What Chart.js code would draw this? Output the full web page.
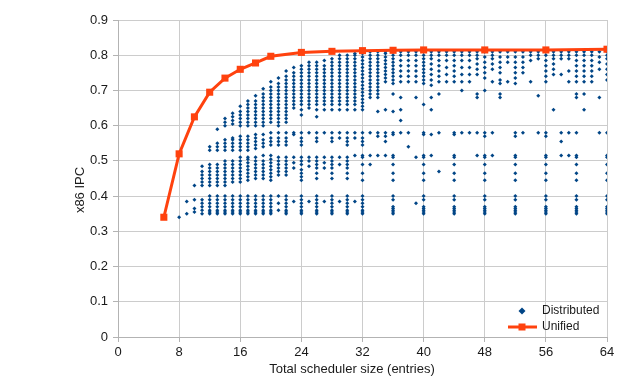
<!DOCTYPE html>
<html>
<head>
<meta charset="utf-8">
<script src="https://cdn.jsdelivr.net/npm/chart.js@4.4.1/dist/chart.umd.min.js"></script>
<style>
  html, body { margin: 0; padding: 0; background: #fff; }
  #wrap { width: 640px; height: 383px; position: relative; }
</style>
</head>
<body>
<div id="wrap"><canvas id="chartCanvas"></canvas></div>
<script>
// Unified scheduler: one point per size
const unifiedSize = [6, 8, 10, 12, 14, 16, 18, 20, 24, 28, 32, 36, 40, 48, 56, 64];
const unifiedIPC = [0.34, 0.52, 0.625, 0.695, 0.735, 0.76, 0.778, 0.797, 0.808, 0.811, 0.813, 0.814, 0.815, 0.815, 0.815, 0.817];

// Distributed configurations: all IPC values seen at each total size
const distSize = [8, 9, 10, 11, 12, 13, 14, 15, 16, 17, 18, 19, 20, 21, 22, 23, 24, 25, 26, 27, 28, 29, 30, 31, 32,
  33, 34, 35, 36, 37, 38, 39, 40, 41, 42, 43, 44, 45, 46, 47, 48, 49, 50, 51, 52, 53, 54, 55, 56, 57, 58, 59, 60, 61, 62, 63, 64];
const distIPC = [
  [0.34],
  [0.35, 0.385],
  [0.355, 0.365, 0.39, 0.43],
  [0.35, 0.36, 0.37, 0.38, 0.39, 0.43, 0.44, 0.45, 0.46, 0.47, 0.485],
  [0.35, 0.355, 0.36, 0.37, 0.38, 0.39, 0.40, 0.43, 0.44, 0.45, 0.46, 0.47, 0.48, 0.49, 0.53, 0.54],
  [0.35, 0.355, 0.36, 0.37, 0.38, 0.39, 0.40, 0.43, 0.44, 0.45, 0.46, 0.47, 0.48, 0.49, 0.53, 0.54, 0.55, 0.59],
  [0.35, 0.355, 0.36, 0.37, 0.38, 0.39, 0.40, 0.43, 0.44, 0.45, 0.46, 0.47, 0.48, 0.49, 0.50, 0.53, 0.54, 0.55, 0.56, 0.60, 0.61, 0.62],
  [0.35, 0.355, 0.36, 0.37, 0.38, 0.39, 0.40, 0.44, 0.45, 0.46, 0.47, 0.48, 0.49, 0.50, 0.53, 0.54, 0.55, 0.56, 0.565, 0.605, 0.615, 0.625, 0.635],
  [0.35, 0.355, 0.36, 0.37, 0.38, 0.39, 0.40, 0.44, 0.45, 0.46, 0.47, 0.48, 0.49, 0.50, 0.51, 0.53, 0.54, 0.55, 0.56, 0.57, 0.60, 0.61, 0.62, 0.63, 0.64, 0.655],
  [0.35, 0.355, 0.36, 0.37, 0.38, 0.39, 0.40, 0.445, 0.455, 0.465, 0.475, 0.485, 0.495, 0.505, 0.51, 0.53, 0.54, 0.55, 0.56, 0.57, 0.60, 0.61, 0.62, 0.63, 0.64, 0.65, 0.66, 0.67],
  [0.35, 0.355, 0.36, 0.37, 0.38, 0.39, 0.40, 0.45, 0.46, 0.47, 0.48, 0.49, 0.50, 0.51, 0.535, 0.545, 0.555, 0.565, 0.575, 0.60, 0.61, 0.62, 0.63, 0.64, 0.65, 0.66, 0.67, 0.685],
  [0.35, 0.355, 0.36, 0.37, 0.38, 0.39, 0.40, 0.45, 0.46, 0.47, 0.48, 0.49, 0.50, 0.515, 0.54, 0.55, 0.56, 0.575, 0.60, 0.61, 0.62, 0.63, 0.64, 0.65, 0.66, 0.67, 0.68, 0.69, 0.705],
  [0.35, 0.355, 0.36, 0.37, 0.38, 0.39, 0.40, 0.445, 0.455, 0.465, 0.475, 0.485, 0.495, 0.505, 0.515, 0.545, 0.555, 0.565, 0.58, 0.61, 0.62, 0.63, 0.64, 0.65, 0.66, 0.67, 0.68, 0.69, 0.70, 0.71, 0.725],
  [0.36, 0.38, 0.40, 0.46, 0.47, 0.48, 0.49, 0.50, 0.51, 0.545, 0.555, 0.565, 0.58, 0.60, 0.61, 0.62, 0.63, 0.64, 0.65, 0.66, 0.67, 0.68, 0.69, 0.70, 0.71, 0.72, 0.735],
  [0.35, 0.355, 0.36, 0.37, 0.38, 0.39, 0.40, 0.46, 0.47, 0.48, 0.49, 0.50, 0.51, 0.545, 0.555, 0.565, 0.58, 0.61, 0.62, 0.63, 0.64, 0.65, 0.66, 0.67, 0.68, 0.69, 0.70, 0.71, 0.72, 0.73, 0.74, 0.755],
  [0.385, 0.48, 0.495, 0.51, 0.575, 0.58, 0.65, 0.66, 0.67, 0.68, 0.69, 0.70, 0.71, 0.72, 0.73, 0.74, 0.75, 0.765],
  [0.35, 0.355, 0.36, 0.37, 0.38, 0.39, 0.40, 0.445, 0.455, 0.465, 0.475, 0.49, 0.50, 0.51, 0.545, 0.555, 0.565, 0.58, 0.63, 0.645, 0.66, 0.67, 0.68, 0.69, 0.70, 0.71, 0.72, 0.73, 0.74, 0.75, 0.76, 0.77],
  [0.385, 0.485, 0.50, 0.51, 0.58, 0.65, 0.66, 0.67, 0.68, 0.69, 0.70, 0.71, 0.72, 0.73, 0.74, 0.75, 0.76, 0.77, 0.78],
  [0.35, 0.355, 0.36, 0.37, 0.38, 0.39, 0.40, 0.45, 0.465, 0.48, 0.49, 0.50, 0.51, 0.555, 0.565, 0.58, 0.625, 0.645, 0.66, 0.67, 0.68, 0.69, 0.70, 0.71, 0.72, 0.73, 0.74, 0.75, 0.76, 0.77, 0.78],
  [0.385, 0.48, 0.495, 0.51, 0.58, 0.645, 0.66, 0.67, 0.68, 0.69, 0.70, 0.71, 0.72, 0.73, 0.74, 0.75, 0.76, 0.77, 0.785],
  [0.35, 0.355, 0.36, 0.37, 0.38, 0.39, 0.40, 0.45, 0.465, 0.48, 0.49, 0.50, 0.51, 0.555, 0.565, 0.58, 0.645, 0.66, 0.67, 0.68, 0.69, 0.70, 0.71, 0.72, 0.73, 0.74, 0.75, 0.76, 0.77, 0.78, 0.79],
  [0.385, 0.49, 0.51, 0.565, 0.58, 0.645, 0.66, 0.67, 0.68, 0.69, 0.70, 0.71, 0.72, 0.73, 0.74, 0.75, 0.76, 0.77, 0.78, 0.79, 0.80],
  [0.35, 0.355, 0.36, 0.37, 0.38, 0.39, 0.40, 0.45, 0.465, 0.48, 0.49, 0.50, 0.51, 0.545, 0.555, 0.565, 0.58, 0.645, 0.66, 0.67, 0.68, 0.69, 0.70, 0.71, 0.72, 0.73, 0.74, 0.75, 0.76, 0.77, 0.78, 0.79, 0.80],
  [0.385, 0.515, 0.565, 0.58, 0.645, 0.66, 0.67, 0.68, 0.69, 0.70, 0.71, 0.72, 0.73, 0.74, 0.75, 0.76, 0.77, 0.78, 0.79, 0.80, 0.805],
  [0.35, 0.355, 0.36, 0.37, 0.38, 0.39, 0.40, 0.445, 0.465, 0.49, 0.51, 0.515, 0.545, 0.555, 0.565, 0.58, 0.645, 0.655, 0.665, 0.675, 0.685, 0.695, 0.705, 0.715, 0.725, 0.735, 0.745, 0.755, 0.765, 0.775, 0.785, 0.795, 0.805, 0.81],
  [0.49, 0.515, 0.58, 0.68, 0.69, 0.70, 0.71, 0.72, 0.73, 0.74, 0.75, 0.76, 0.77, 0.78, 0.79, 0.80, 0.81],
  [0.515, 0.57, 0.58, 0.64, 0.68, 0.69, 0.70, 0.71, 0.72, 0.73, 0.74, 0.75, 0.76, 0.77, 0.78, 0.79, 0.80, 0.81],
  [0.515, 0.555, 0.57, 0.58, 0.645, 0.725, 0.735, 0.745, 0.755, 0.765, 0.775, 0.785, 0.795, 0.805, 0.81],
  [0.35, 0.355, 0.36, 0.365, 0.37, 0.39, 0.40, 0.445, 0.465, 0.49, 0.51, 0.515, 0.575, 0.58, 0.64, 0.69, 0.72, 0.73, 0.74, 0.75, 0.76, 0.77, 0.78, 0.79, 0.80, 0.81],
  [0.58, 0.615, 0.645, 0.68, 0.725, 0.74, 0.755, 0.77, 0.785, 0.80, 0.81],
  [0.54, 0.58, 0.725, 0.74, 0.755, 0.77, 0.785, 0.80, 0.81],
  [0.38, 0.51, 0.68, 0.725, 0.74, 0.755, 0.77, 0.785, 0.80, 0.81],
  [0.35, 0.355, 0.36, 0.365, 0.37, 0.39, 0.40, 0.445, 0.465, 0.49, 0.51, 0.515, 0.575, 0.58, 0.66, 0.72, 0.73, 0.74, 0.75, 0.76, 0.77, 0.78, 0.79, 0.80, 0.81],
  [0.515, 0.575, 0.645, 0.68, 0.715, 0.73, 0.745, 0.76, 0.775, 0.79, 0.80, 0.81],
  [0.47, 0.58, 0.69, 0.725, 0.74, 0.755, 0.77, 0.785, 0.80, 0.81],
  [0.725, 0.745, 0.765, 0.785, 0.80, 0.81],
  [0.35, 0.355, 0.36, 0.365, 0.37, 0.39, 0.40, 0.445, 0.465, 0.49, 0.51, 0.515, 0.575, 0.58, 0.725, 0.74, 0.755, 0.77, 0.785, 0.80, 0.81],
  [0.58, 0.70, 0.725, 0.745, 0.765, 0.785, 0.80, 0.81],
  [0.58, 0.725, 0.745, 0.765, 0.785, 0.80, 0.81],
  [0.515, 0.58, 0.68, 0.69, 0.745, 0.76, 0.775, 0.79, 0.80, 0.81],
  [0.35, 0.355, 0.36, 0.365, 0.37, 0.39, 0.40, 0.445, 0.465, 0.49, 0.51, 0.515, 0.57, 0.58, 0.70, 0.735, 0.75, 0.765, 0.78, 0.795, 0.81],
  [0.515, 0.58, 0.725, 0.76, 0.775, 0.79, 0.80, 0.81],
  [0.68, 0.69, 0.72, 0.73, 0.75, 0.765, 0.78, 0.795, 0.81],
  [0.725, 0.78, 0.795, 0.81],
  [0.35, 0.355, 0.36, 0.365, 0.37, 0.39, 0.40, 0.445, 0.465, 0.49, 0.51, 0.515, 0.57, 0.58, 0.72, 0.735, 0.75, 0.765, 0.78, 0.795, 0.81],
  [0.58, 0.75, 0.765, 0.78, 0.795, 0.81],
  [0.725, 0.785, 0.80, 0.81],
  [0.58, 0.685, 0.79, 0.80, 0.81],
  [0.35, 0.355, 0.36, 0.365, 0.37, 0.39, 0.40, 0.445, 0.465, 0.49, 0.51, 0.515, 0.57, 0.58, 0.725, 0.74, 0.755, 0.77, 0.785, 0.80, 0.81],
  [0.645, 0.745, 0.76, 0.775, 0.79, 0.80, 0.81],
  [0.515, 0.555, 0.58, 0.745, 0.79, 0.80, 0.81],
  [0.515, 0.58, 0.725, 0.755, 0.79, 0.80, 0.81],
  [0.35, 0.355, 0.36, 0.365, 0.37, 0.39, 0.40, 0.445, 0.465, 0.49, 0.51, 0.515, 0.58, 0.68, 0.69, 0.725, 0.74, 0.755, 0.77, 0.785, 0.80, 0.81],
  [0.645, 0.69, 0.725, 0.74, 0.755, 0.77, 0.785, 0.80, 0.81],
  [0.725, 0.74, 0.755, 0.77, 0.785, 0.80, 0.81],
  [0.58, 0.68, 0.76, 0.78, 0.795, 0.81],
  [0.35, 0.355, 0.36, 0.365, 0.37, 0.39, 0.40, 0.445, 0.465, 0.49, 0.51, 0.515, 0.58, 0.73, 0.745, 0.76, 0.775, 0.79, 0.80, 0.81],
];

const yTickLabels = ["0", "0.1", "0.2", "0.3", "0.4", "0.5", "0.6", "0.7", "0.8", "0.9"];
const xTitle = "Total scheduler size (entries)";
const yTitle = "x86 IPC";
const seriesNames = ["Distributed", "Unified"];

const BLUE = "#004586";
const ORANGE = "#ff420e";
const FONT = "'Liberation Sans', Arial, sans-serif";

// build point lists
let distPoints = [];
distSize.forEach((s, i) => {
  distIPC[i].forEach((v) => distPoints.push({ x: s, y: v }));
});
let unifiedPoints = unifiedSize.map((s, i) => ({ x: s, y: unifiedIPC[i] }));

// titles and legend are placed by hand, like the original
const extras = {
  id: "extras",
  afterDraw(chart) {
    const c = chart.ctx;
    c.save();
    c.fillStyle = "#1a1a1a";
    c.font = "13px " + FONT;
    c.textAlign = "center";
    c.textBaseline = "middle";
    c.fillText(xTitle, 352, 369);
    c.translate(80, 190);
    c.rotate(-Math.PI / 2);
    c.fillText(yTitle, 0, 0);
    c.restore();

    c.save();
    // Distributed marker
    c.fillStyle = BLUE;
    c.beginPath();
    c.moveTo(522, 307.5);
    c.lineTo(525.5, 311);
    c.lineTo(522, 314.5);
    c.lineTo(518.5, 311);
    c.closePath();
    c.fill();
    // Unified marker
    c.strokeStyle = ORANGE;
    c.lineWidth = 3;
    c.beginPath();
    c.moveTo(508, 327);
    c.lineTo(537, 327);
    c.stroke();
    c.fillStyle = ORANGE;
    c.fillRect(518.5, 323.5, 7, 7);
    c.fillStyle = "#1a1a1a";
    c.font = "12px " + FONT;
    c.textAlign = "left";
    c.textBaseline = "middle";
    c.fillText(seriesNames[0], 542, 311);
    c.fillText(seriesNames[1], 542, 327);
    c.restore();
  },
};

const ctx = document.getElementById("chartCanvas").getContext("2d");
const chart = new Chart(ctx, {
  type: "scatter",
  data: {
    datasets: [
      {
        label: seriesNames[1],
        data: unifiedPoints,
        showLine: true,
        borderColor: ORANGE,
        backgroundColor: ORANGE,
        borderWidth: 3,
        pointStyle: "rect",
        pointRadius: 5,
        pointBorderWidth: 0,
        tension: 0,
      },
      {
        label: seriesNames[0],
        data: distPoints,
        backgroundColor: BLUE,
        borderColor: BLUE,
        pointStyle: "rectRot",
        pointRadius: 2,
        pointBorderWidth: 0,
      },
    ],
  },
  options: {
    responsive: true,
    maintainAspectRatio: false,
    animation: false,
    layout: { padding: { top: 20, right: 33, left: 0, bottom: 0 } },
    plugins: {
      legend: { display: false },
      tooltip: { enabled: false },
    },
    scales: {
      x: {
        type: "linear",
        min: 0,
        max: 64,
        afterFit: (s) => { s.height = 46; },
        ticks: { stepSize: 8, color: "#1a1a1a", font: { family: FONT, size: 13 }, padding: 3 },
        grid: { color: "#cccccc", lineWidth: 1, tickLength: 5, tickColor: "#b3b3b3" },
        border: { color: "#b3b3b3", width: 1 },
      },
      y: {
        min: 0,
        max: 0.9,
        afterFit: (s) => { s.width = 118; },
        ticks: {
          stepSize: 0.1,
          color: "#1a1a1a",
          font: { family: FONT, size: 13 },
          padding: 5,
          callback: (v, i) => yTickLabels[i],
        },
        grid: { color: "#cccccc", lineWidth: 1, tickLength: 5, tickColor: "#b3b3b3" },
        border: { color: "#b3b3b3", width: 1 },
      },
    },
  },
  plugins: [extras],
});
</script>
</body>
</html>
